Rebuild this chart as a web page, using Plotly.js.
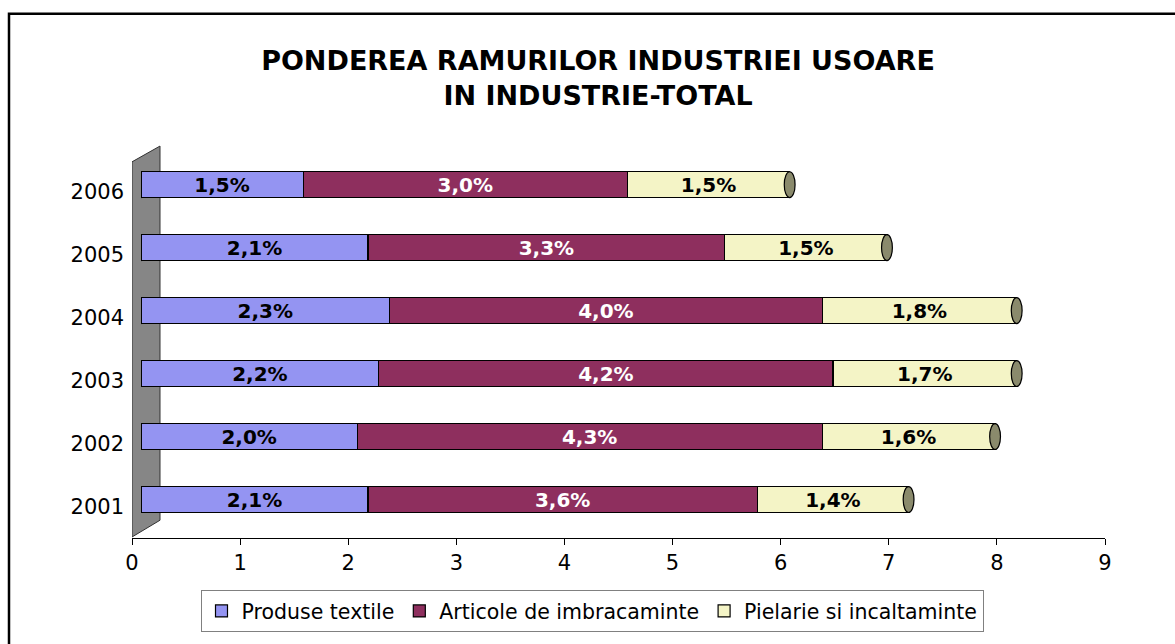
<!DOCTYPE html>
<html>
<head>
<meta charset="utf-8">
<script src="https://cdn.plot.ly/plotly-3.0.1.min.js"></script>
<style>
  html, body { margin: 0; padding: 0; background: #fff; }
  #chart { width: 1175px; height: 644px; }
</style>
</head>
<body>
<div id="chart"></div>
<script>
// ---- data ----
const years = ["2001", "2002", "2003", "2004", "2005", "2006"];
const seriesNames = ["Produse textile", "Articole de imbracaminte", "Pielarie si incaltaminte"];
const textile = [2.1, 2.0, 2.2, 2.3, 2.1, 1.5];
const imbracaminte = [3.6, 4.3, 4.2, 4.0, 3.3, 3.0];
const pielarie = [1.4, 1.6, 1.7, 1.8, 1.5, 1.5];
const xTicks = [0, 1, 2, 3, 4, 5, 6, 7, 8, 9];
const titleText = "PONDEREA RAMURILOR INDUSTRIEI USOARE<br>IN INDUSTRIE-TOTAL";

// ---- styling ----
const colors = ["#9494F2", "#8E2F5E", "#F4F4C6"];
const textColors = ["#000000", "#FFFFFF", "#000000"];
const FONT = "DejaVu Sans, Liberation Sans, Arial, sans-serif";

const fmt = v => v.toFixed(1).replace(".", ",") + "%";
const allSeries = [textile, imbracaminte, pielarie];

const traces = allSeries.map((vals, i) => ({
  type: "bar",
  orientation: "h",
  name: seriesNames[i],
  y: years,
  x: vals,
  xaxis: "x2",
  yaxis: "y",
  text: vals.map(fmt),
  textposition: "inside",
  insidetextanchor: "middle",
  constraintext: "none",
  textfont: { family: FONT, size: 20, color: textColors[i], weight: "bold" },
  marker: { color: colors[i], line: { color: "#000000", width: 1.2 } },
  hoverinfo: "skip"
}));

// plot geometry (pixels)
const W = 1175, H = 644;
const L = 132, R = 61, T = 150, B = 101;
const pw = W - L - R; // 982
const ph = H - T - B; // 393
const shift = 9;      // depth shift of bars (px)

const totals = years.map((_, k) => textile[k] + imbracaminte[k] + pielarie[k]);

const shapes = [];
const px2x = px => (px - L) / 108.1;
const py2p = py => (H - B - py) / ph;
// back wall (gray)
shapes.push({
  type: "path", xref: "x", yref: "paper", layer: "below",
  path: `M ${px2x(132)} ${py2p(542)} L ${px2x(132)} ${py2p(162)} L ${px2x(160)} ${py2p(146)} L ${px2x(160)} ${py2p(525)} Z`,
  fillcolor: "#868686", line: { color: "#333333", width: 1 }
});
// left rounded ends and right end caps
years.forEach((yr, k) => {
  shapes.push({
    type: "circle", xref: "x2", yref: "y", layer: "below",
    x0: -0.055, x1: 0.055, y0: k - 0.205, y1: k + 0.205,
    fillcolor: colors[0], line: { color: "#000", width: 1.2 }
  });
  shapes.push({
    type: "circle", xref: "x2", yref: "y", layer: "above",
    x0: totals[k] - 0.05, x1: totals[k] + 0.05, y0: k - 0.205, y1: k + 0.205,
    fillcolor: "#8A8A6C", line: { color: "#000", width: 1.2 }
  });
});
// outer border
shapes.push({
  type: "rect", xref: "paper", yref: "paper",
  x0: (9 - L) / pw, x1: (1185 - L) / pw, y0: (H - B - 660) / ph, y1: (H - B - 12) / ph,
  line: { color: "#000", width: 2.5 }, fillcolor: "rgba(0,0,0,0)"
});

const layout = {
  width: W, height: H,
  margin: { l: L, r: R, t: T, b: B, pad: 0 },
  paper_bgcolor: "#ffffff",
  plot_bgcolor: "rgba(0,0,0,0)",
  barmode: "stack",
  bargap: 0.59,
  showlegend: true,
  title: {
    text: titleText,
    font: { family: FONT, size: 27, color: "#000", weight: "bold" },
    x: (598 - L) / pw, xref: "paper", xanchor: "center",
    y: 1 - 70 / H, yref: "container", yanchor: "middle"
  },
  xaxis: {
    domain: [0, (pw - shift) / pw],
    range: [0, 9],
    tickvals: xTicks,
    ticks: "outside", ticklen: 6, tickcolor: "#000", tickwidth: 1,
    showline: true, linecolor: "#000", linewidth: 1,
    showgrid: false, zeroline: false,
    tickfont: { family: FONT, size: 21, color: "#000" },
    anchor: "y", fixedrange: true
  },
  xaxis2: {
    domain: [shift / pw, 1],
    range: [0, 9],
    visible: false, showgrid: false, zeroline: false,
    anchor: "y", fixedrange: true
  },
  yaxis: {
    type: "category",
    categoryorder: "array", categoryarray: years,
    range: [-0.61, 5.55],
    showline: false, showgrid: false, zeroline: false,
    ticks: "", ticklabelstandoff: 7, ticklabelshift: 7,
    tickfont: { family: FONT, size: 21, color: "#000" },
    anchor: "x", fixedrange: true
  },
  legend: {
    orientation: "h",
    x: (592 - L) / pw, xanchor: "center",
    y: (H - B - 617) / ph, yanchor: "middle",
    bordercolor: "#808080", borderwidth: 1,
    bgcolor: "#fff",
    font: { family: FONT, size: 20.5, color: "#000" },
    itemwidth: 30, traceorder: "normal"
  },
  shapes: shapes
};

Plotly.newPlot("chart", traces, layout, { displayModeBar: false, staticPlot: true });
</script>
</body>
</html>
